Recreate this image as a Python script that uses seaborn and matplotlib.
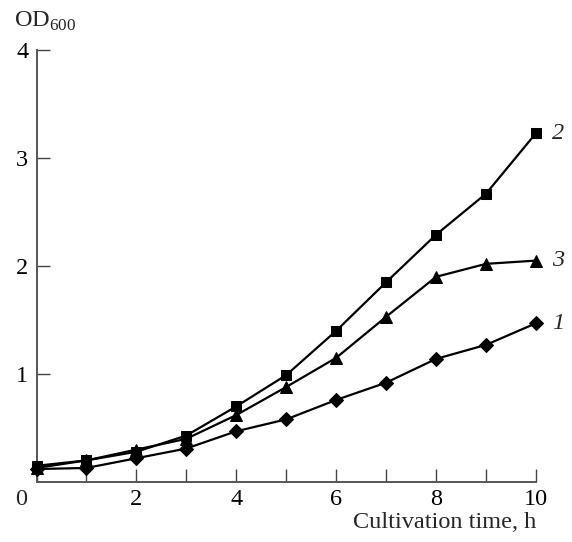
import matplotlib
matplotlib.use("Agg")
import matplotlib.pyplot as plt
import seaborn as sns
import pandas as pd
import numpy as np

time_h = [0, 1, 2, 3, 4, 5, 6, 7, 8, 9, 10]
series_1 = [0.12, 0.13, 0.22, 0.31, 0.47, 0.58, 0.76, 0.92, 1.14, 1.27, 1.47]
series_2 = [0.15, 0.20, 0.28, 0.43, 0.70, 0.99, 1.40, 1.85, 2.29, 2.67, 3.23]
series_3 = [0.13, 0.20, 0.30, 0.40, 0.62, 0.88, 1.15, 1.53, 1.90, 2.02, 2.05]
series_names = ["1", "2", "3"]

sns.set_style("ticks")
plt.rcParams['font.family'] = ['Liberation Serif', 'DejaVu Serif']
plt.rcParams['mathtext.fontset'] = 'custom'
plt.rcParams['mathtext.rm'] = 'Liberation Serif'

FS = 17.5
fig = plt.figure(figsize=(5.72, 5.42), dpi=100)
ax = fig.add_axes([36.5/572, 60/542, 499.5/572, 432/542])

df = pd.DataFrame({
    "t": time_h * 3,
    "od": series_1 + series_2 + series_3,
    "s": [series_names[0]] * 11 + [series_names[1]] * 11 + [series_names[2]] * 11,
})
markers = {"1": "D", "2": "s", "3": "^"}
msizes = {"1": 7, "2": 7.5, "3": 8.5}
for name in series_names:
    sub = df[df.s == name]
    sns.lineplot(data=sub, x="t", y="od", ax=ax, color="black", lw=1.6,
                 marker=markers[name], markersize=msizes[name],
                 markeredgecolor="black", markerfacecolor="black", legend=False,
                 clip_on=False, zorder=3)
    ax.text(10.33, sub.od.iloc[-1], name, fontsize=FS, style="italic",
            va="center", ha="left")

ax.set_xlim(0, 10)
ax.set_ylim(0, 4)
ax.set_xticks(range(0, 11))
ax.set_xticklabels([str(v) if (v % 2 == 0 and v > 0) else "" for v in range(0, 11)])
ax.set_yticks([1, 2, 3, 4])
ax.tick_params(direction="in", length=9.5, width=1.0, labelsize=FS,
               colors="#444444", labelcolor="black", pad=5)
ax.tick_params(axis="y", pad=6)
for sp in ["top", "right"]:
    ax.spines[sp].set_visible(False)
for sp in ["left", "bottom"]:
    ax.spines[sp].set_linewidth(1.4)
    ax.spines[sp].set_color("#555555")
ax.set_xlabel("")
ax.set_ylabel("")
# origin "0" label, offset to the lower-left as in the reference
ax.annotate("0", xy=(0, 0), xycoords="data", xytext=(-15, -7),
            textcoords="offset pixels", ha="center", va="top", fontsize=FS)
fig.text(536/572, 9/542, "Cultivation time, h", fontsize=FS, ha="right", va="bottom")
fig.text(14/572, 509/542, r"OD$_{600}$", fontsize=FS, ha="left", va="bottom")

fig.savefig("out.png", dpi=100)
